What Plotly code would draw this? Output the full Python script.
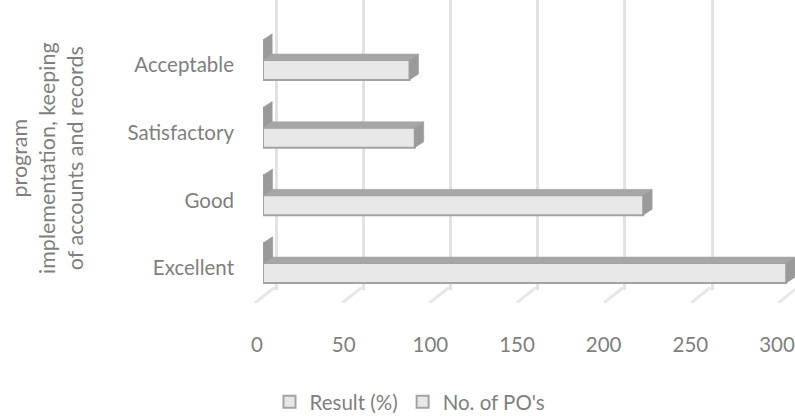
import plotly.graph_objects as go

# ---- data -------------------------------------------------------------
categories = ["Excellent", "Good", "Satisfactory", "Acceptable"]
result_pct = [0.44, 0.32, 0.13, 0.12]      # Result (%) stored as fractions
po_count = [300, 218, 87, 84]              # No. of PO's
x_ticks = [0, 50, 100, 150, 200, 250, 300]
series_names = ["Result (%)", "No. of PO's"]

# ---- geometry / style -------------------------------------------------
W, H = 795, 416
FONT = "Lato"
TXT = "#7f7f7f"
FRONT = "#e8e8e8"
EDGE = "#a3a3a3"
TOP = "#a6a6a6"
SIDE = "#9a9a9a"

px_per_unit = 87.2 / 50.0          # horizontal scale of the value axis
cat_px = 67.67                      # vertical distance between categories
plot_left = 263                     # value 0 on the front plane
x_range = [0, (W - plot_left) / px_per_unit]
y_top_px = 65 - 0.5 * cat_px
y_bot_px = 268 + 0.5 * cat_px
y_dom = [(H - y_bot_px) / H, (H - y_top_px) / H]

# 3-D depth of each bar (right and up)
dx = 9 / px_per_unit
dy = 6 / cat_px
bar_w = 20 / cat_px
# Result bar sits above the PO bar inside each category
offsets = [5 / cat_px, 5 / cat_px - bar_w]

fig = go.Figure()

# back-wall grid (own subplot so it stays behind the bars)
grid_left_px = 250
grid_x0 = (grid_left_px - 276) / px_per_unit
grid_range = [grid_x0, grid_x0 + (W - grid_left_px) / px_per_unit]
fig.add_trace(go.Scatter(x=[None], y=[None], xaxis="x", yaxis="y",
                         showlegend=False, hoverinfo="skip"))

# front faces of the bars
series_vals = [result_pct, po_count]
for name, vals, off in zip(series_names, series_vals, offsets):
    fig.add_trace(go.Bar(
        y=list(range(len(categories))), x=vals, orientation="h",
        name=name, xaxis="x2", yaxis="y2",
        width=bar_w, offset=off,
        marker=dict(color=FRONT, line=dict(color=EDGE, width=2)),
        hoverinfo="x+name",
    ))

# top and end faces (depth) built from the same values
def add_poly(xs, ys, color):
    fig.add_trace(go.Scatter(
        x=xs, y=ys, xaxis="x2", yaxis="y2", mode="lines",
        fill="toself", fillcolor=color, line=dict(color=color, width=0.5),
        showlegend=False, hoverinfo="skip",
    ))

for vals, off in zip(series_vals[::-1], offsets[::-1]):
    for i, v in enumerate(vals):
        bot = i + off
        top = bot + bar_w
        add_poly([0, v, v + dx, dx, 0], [top, top, top + dy, top + dy, top], TOP)
        add_poly([v, v, v + dx, v + dx, v],
                 [bot, top, top + dy, bot + dy, bot], SIDE)

# value labels along the front edge of the floor (slightly foreshortened)
lab_px_per_unit = (777 - 257) / 300.0
lab_left_px = 240
lab_x0 = (lab_left_px - 257) / lab_px_per_unit
lab_range = [lab_x0, lab_x0 + (W - lab_left_px) / lab_px_per_unit]
fig.add_trace(go.Scatter(x=[None], y=[None], xaxis="x3", yaxis="y3",
                         showlegend=False, hoverinfo="skip"))

# floor grid strokes running from the front edge to the back wall
floor_x0 = (lab_left_px - 257) / px_per_unit
floor_range = [floor_x0, floor_x0 + (W - lab_left_px) / px_per_unit]
sx, sy = [], []
for t in x_ticks:
    sx += [t - 2 / px_per_unit, t + 18 / px_per_unit, None]
    sy += [0, 1, None]
fig.add_trace(go.Scatter(x=sx, y=sy, xaxis="x4", yaxis="y4", mode="lines",
                         line=dict(color="#e8e8e8", width=3),
                         showlegend=False, hoverinfo="skip"))

hidden = dict(showgrid=False, zeroline=False, showticklabels=False,
              showline=False, ticks="", fixedrange=True)

fig.update_layout(
    width=W, height=H,
    margin=dict(l=0, r=0, t=0, b=0, autoexpand=False),
    paper_bgcolor="white", plot_bgcolor="rgba(0,0,0,0)",
    barmode="overlay",
    font=dict(family=FONT, size=20, color=TXT),
    xaxis=dict(domain=[grid_left_px / W, 1], range=grid_range, anchor="y",
               showgrid=True, gridcolor="#e3e3e3", gridwidth=3,
               tickmode="array", tickvals=x_ticks,
               zeroline=False, showticklabels=False, ticks="",
               showline=False, fixedrange=True),
    yaxis=dict(domain=[(H - 290) / H, 1], range=[0, 1], anchor="x", **hidden),
    xaxis2=dict(domain=[plot_left / W, 1], range=x_range, anchor="y2", **hidden),
    yaxis2=dict(domain=y_dom, range=[-0.5, len(categories) - 0.5], anchor="x2",
                tickmode="array", tickvals=list(range(len(categories))),
                ticktext=categories, showticklabels=True, ticks="",
                ticklabelstandoff=28, showgrid=False, zeroline=False,
                showline=False, fixedrange=True,
                tickfont=dict(family=FONT, size=20.5, color=TXT)),
    xaxis3=dict(domain=[lab_left_px / W, 1], range=lab_range, anchor="y3",
                tickmode="array", tickvals=x_ticks, showticklabels=True,
                ticklabeloverflow="allow",
                ticks="", ticklabelstandoff=29, showgrid=False, zeroline=False,
                showline=False, fixedrange=True,
                tickfont=dict(family=FONT, size=20.5, color=TXT)),
    yaxis3=dict(domain=y_dom, range=[0, 1], anchor="x3", **hidden),
    xaxis4=dict(domain=[lab_left_px / W, 1], range=floor_range, anchor="y4",
                **hidden),
    yaxis4=dict(domain=[(H - 303) / H, (H - 287) / H], range=[0, 1],
                anchor="x4", **hidden),
    legend=dict(orientation="h", x=410 / W, xanchor="center",
                y=(H - 402) / H, yanchor="middle",
                font=dict(family=FONT, size=20.5, color=TXT),
                bgcolor="rgba(0,0,0,0)"),
    annotations=[dict(
        text="program<br>implementation, keeping<br>of accounts and records",
        xref="paper", yref="paper", x=47 / W, y=(H - 158) / H,
        xanchor="center", yanchor="middle", textangle=-90, showarrow=False,
        font=dict(family=FONT, size=21.5, color=TXT),
    )],
)

fig.write_html("out.html")
